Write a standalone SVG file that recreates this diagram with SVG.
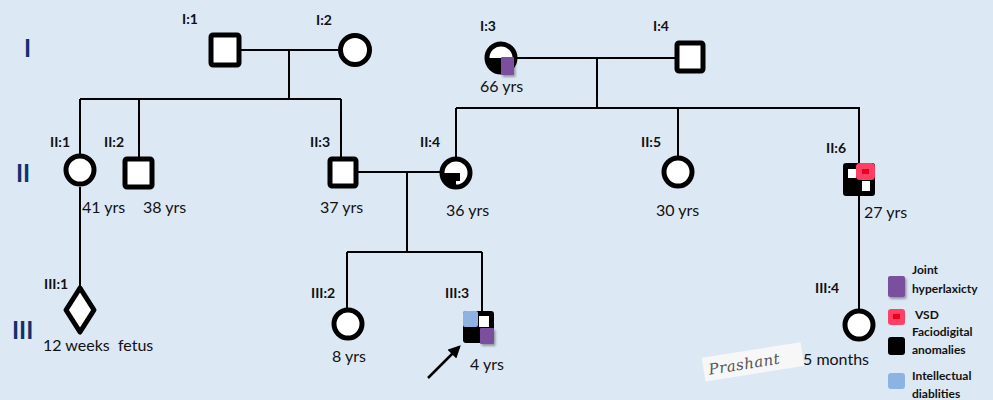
<svg xmlns="http://www.w3.org/2000/svg" width="993" height="400" viewBox="0 0 993 400">
  <defs>
    <style>
      .bg { fill: #dde8f5; }
      .gen { font-family: Lato, "Liberation Sans", sans-serif; font-size: 24px; font-weight: bold; fill: #13306e; }
      .lab { font-family: Lato, "Liberation Sans", sans-serif; font-size: 14px; font-weight: bold; fill: #111; }
      .age { font-family: Lato, "Liberation Sans", sans-serif; font-size: 16px; fill: #111; }
      .leg { font-family: Lato, "Liberation Sans", sans-serif; font-size: 12px; font-weight: bold; fill: #111; }
      .line { stroke: #000; stroke-width: 2; fill: none; }
      .sym { stroke: #000; stroke-width: 5; fill: #fff; }
      .purple { fill: #7a4f9e; }
      .blue { fill: #8db3e2; }
      .pink { fill: #ff3f63; }
      .red { fill: #e8001c; }
    </style>
    <filter id="shadow" x="-30%" y="-30%" width="170%" height="170%">
      <feDropShadow dx="1.5" dy="2" stdDeviation="1.2" flood-color="#000" flood-opacity="0.35"/>
    </filter>
    <marker id="arrow" viewBox="0 0 10 10" refX="8" refY="5" markerWidth="5" markerHeight="5" orient="auto">
      <path d="M0,0 L10,5 L0,10 z" fill="#000"/>
    </marker>
  </defs>

  <rect class="bg" x="0" y="0" width="993" height="400"/>

  <!-- generation numerals -->
  <text class="gen" x="24" y="57">I</text>
  <text class="gen" x="16" y="182">II</text>
  <text class="gen" x="12" y="339">III</text>

  <!-- connectors -->
  <g id="connectors">
    <!-- I:1 x I:2 -->
    <path class="line" d="M240,50 H338 M289,50 V99 M80,99 H341 M80,99 V154 M139,99 V157 M341,99 V157"/>
    <!-- I:3 x I:4 -->
    <path class="line" d="M517,58 H675 M597,58 V108 M456,108 H860 M456,108 V157 M678,108 V156 M859,108 V163"/>
    <!-- II:1 to III:1 -->
    <path class="line" d="M80,187 V287"/>
    <!-- II:3 x II:4 -->
    <path class="line" d="M358,172 H440 M407,172 V252 M347,252 H482 M347,252 V308 M482,252 V311"/>
    <!-- II:6 to III:4 -->
    <path class="line" d="M859,196 V309"/>
    <!-- proband arrow -->
    <path d="M428,378 L459,347" stroke="#000" stroke-width="2.5" fill="none" marker-end="url(#arrow)"/>
  </g>

  <!-- Generation I -->
  <g id="I1">
    <rect class="sym" x="211" y="35" width="28" height="30" rx="2"/>
    <text class="lab" x="182" y="24">I:1</text>
  </g>
  <g id="I2">
    <circle class="sym" cx="355" cy="50" r="14.5"/>
    <text class="lab" x="316" y="25">I:2</text>
  </g>
  <g id="I3">
    <circle class="sym" cx="501" cy="58" r="14"/>
    <path d="M487,58 H515 A14,14 0 0 1 487,58 z" fill="#000"/>
    <rect class="purple" x="501" y="57" width="13" height="18" rx="1" filter="url(#shadow)"/>
    <text class="lab" x="480" y="31">I:3</text>
    <text class="age" x="480" y="92">66 yrs</text>
  </g>
  <g id="I4">
    <rect class="sym" x="677" y="43" width="26" height="28" rx="2"/>
    <text class="lab" x="653" y="31">I:4</text>
  </g>

  <!-- Generation II -->
  <g id="II1">
    <circle class="sym" cx="80" cy="170" r="14"/>
    <text class="lab" x="50" y="147">II:1</text>
    <text class="age" x="82" y="213">41 yrs</text>
  </g>
  <g id="II2">
    <rect class="sym" x="125" y="159" width="27" height="28" rx="2"/>
    <text class="lab" x="104" y="147">II:2</text>
    <text class="age" x="143" y="213">38 yrs</text>
  </g>
  <g id="II3">
    <rect class="sym" x="330" y="159" width="26" height="27" rx="2"/>
    <text class="lab" x="310" y="147">II:3</text>
    <text class="age" x="320" y="213">37 yrs</text>
  </g>
  <g id="II4">
    <circle class="sym" cx="456" cy="173" r="14"/>
    <path d="M442,173 A14,14 0 0 0 456,187 V173 z" fill="#000"/>
    <path d="M456,173 H460 V181 H450 V173 z" fill="#000"/>
    <text class="lab" x="420" y="147">II:4</text>
    <text class="age" x="446" y="216">36 yrs</text>
  </g>
  <g id="II5">
    <circle class="sym" cx="678" cy="172" r="14"/>
    <text class="lab" x="641" y="147">II:5</text>
    <text class="age" x="656" y="216">30 yrs</text>
  </g>
  <g id="II6">
    <rect x="843" y="163" width="32" height="33" rx="3" fill="#000"/>
    <rect x="848" y="169" width="8" height="9" fill="#fff"/>
    <rect x="862" y="181" width="8" height="10" fill="#fff"/>
    <rect class="pink" x="856" y="163" width="19" height="17" rx="4"/>
    <rect class="red" x="862" y="169" width="7" height="5"/>
    <text class="lab" x="826" y="153">II:6</text>
    <text class="age" x="864" y="218">27 yrs</text>
  </g>

  <!-- Generation III -->
  <g id="III1">
    <path class="sym" d="M80,288 L94,310 L80,332 L66,310 z" stroke-linejoin="round"/>
    <text class="lab" x="44" y="289">III:1</text>
    <text class="age" x="43" y="351">12 weeks&#160; fetus</text>
  </g>
  <g id="III2">
    <circle class="sym" cx="348" cy="324" r="14"/>
    <text class="lab" x="311" y="298">III:2</text>
    <text class="age" x="332" y="362">8 yrs</text>
  </g>
  <g id="III3">
    <rect x="463" y="311" width="31" height="32" rx="3" fill="#000"/>
    <rect class="blue" x="463" y="311" width="15" height="16" rx="2"/>
    <rect x="479" y="316" width="10" height="11" fill="#fff"/>
    <rect class="purple" x="480" y="328" width="14" height="16" rx="1" filter="url(#shadow)"/>
    <text class="lab" x="445" y="298">III:3</text>
    <text class="age" x="470" y="370">4 yrs</text>
  </g>
  <g id="III4">
    <circle class="sym" cx="859" cy="325" r="14"/>
    <text class="lab" x="815" y="293">III:4</text>
    <text class="age" x="803" y="365">5 months</text>
  </g>

  <!-- signature -->
  <g id="signature" transform="rotate(-9 752 362)">
    <rect x="703" y="350" width="100" height="24" fill="#f7f7f7"/>
    <text x="708" y="368" font-family="'DejaVu Serif', serif" font-style="italic" font-size="15" fill="#555" letter-spacing="0.5">Prashant</text>
  </g>

  <!-- legend -->
  <g id="legend">
    <rect class="purple" x="888" y="276" width="17" height="21" rx="2" filter="url(#shadow)"/>
    <text class="leg" x="912" y="274">Joint</text>
    <text class="leg" x="912" y="293">hyperlaxicty</text>
    <rect class="pink" x="888" y="309" width="17" height="16" rx="3"/>
    <rect class="red" x="893" y="314" width="7" height="5"/>
    <text class="leg" x="915" y="319">VSD</text>
    <rect x="888" y="337" width="17" height="18" rx="3" fill="#000"/>
    <text class="leg" x="912" y="336">Faciodigital</text>
    <text class="leg" x="912" y="354">anomalies</text>
    <rect class="blue" x="888" y="373" width="17" height="16" rx="3"/>
    <text class="leg" x="912" y="380">Intellectual</text>
    <text class="leg" x="912" y="398">diablities</text>
  </g>
</svg>
